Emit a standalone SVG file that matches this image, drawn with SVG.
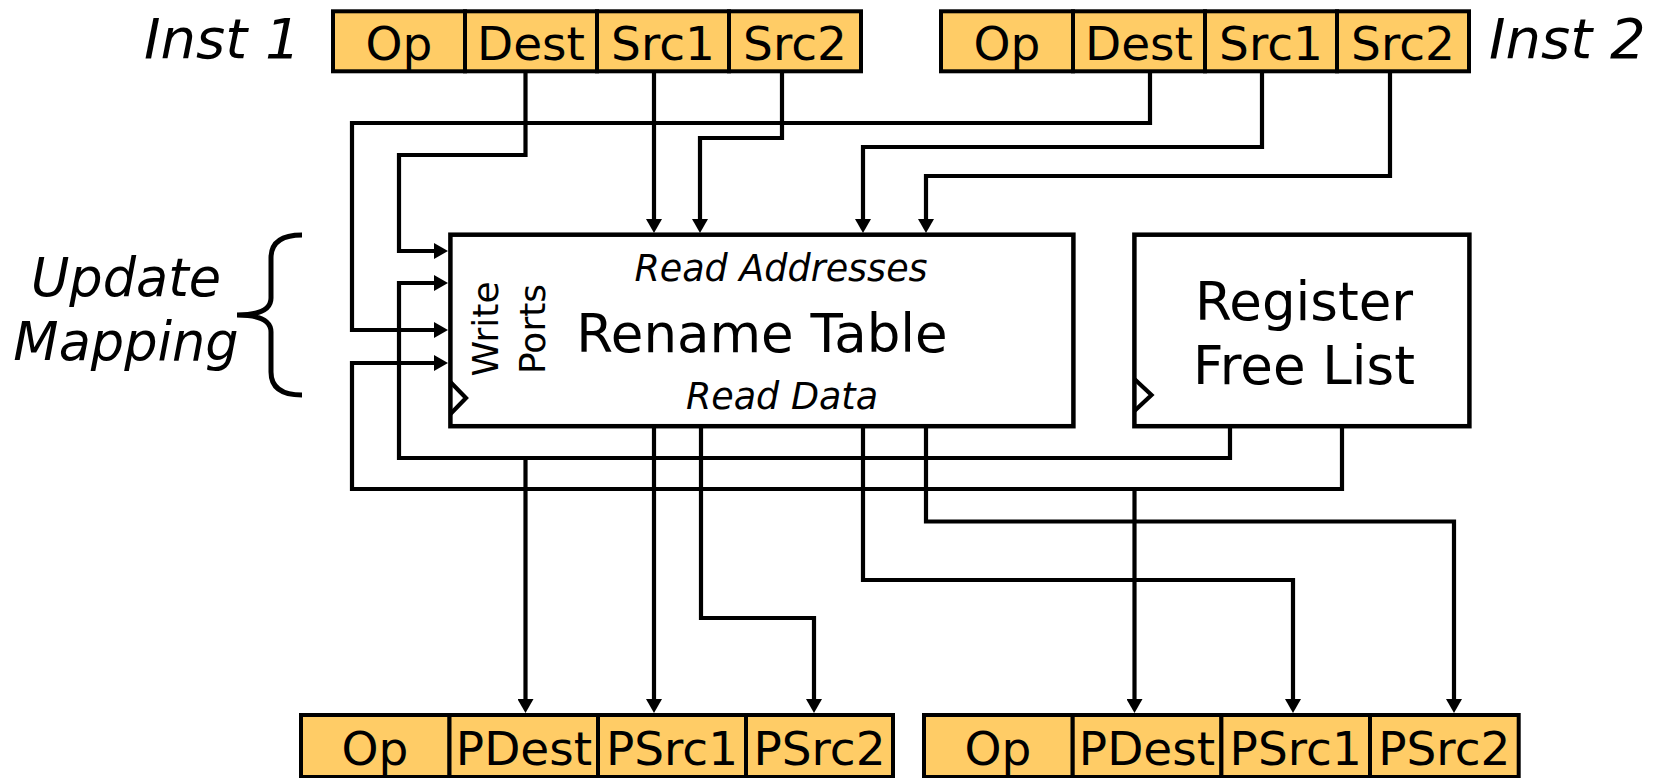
<svg xmlns="http://www.w3.org/2000/svg" width="1655" height="778" viewBox="0 0 1655 778">
<style>
.fld{fill:#FFCC66;stroke:#000;stroke-width:4}
.blk{fill:#fff;stroke:#000;stroke-width:4.5}
.wire{fill:none;stroke:#000;stroke-width:4.2}
.t{font-family:"DejaVu Sans",Verdana,sans-serif;fill:#000}
.it{font-family:"DejaVu Sans",Verdana,sans-serif;font-style:italic;fill:#000}
.lbl{font-size:47px;text-anchor:middle}
.plbl{font-size:47px;text-anchor:middle}
</style>
<defs>
<marker id="arr" markerUnits="userSpaceOnUse" markerWidth="16" markerHeight="16" refX="8" refY="8" orient="auto">
<path d="M0,0 L14,8 L0,16 z" fill="#000"/>
</marker>
</defs>
<rect width="1655" height="778" fill="#fff"/>

<g id="connectors" class="wire" marker-end="url(#arr)">
<path d="M525.5,71 V155 H399 V251 H442"/>
<path d="M654,71 V227"/>
<path d="M782,71 V138 H700 V227"/>
<path d="M1150,71 V123 H352 V330 H442"/>
<path d="M1262,71 V147 H863 V227"/>
<path d="M1390,71 V176 H926 V227"/>
<path d="M1230,427 V458 H399 V283 H442"/>
<path d="M1342,427 V489 H352 V363 H442"/>
<path d="M525.5,458 V707"/>
<path d="M1134.5,489 V707"/>
<path d="M654,427 V707"/>
<path d="M701,427 V618 H814 V707"/>
<path d="M863,427 V580 H1293 V707"/>
<path d="M926,427 V521.5 H1454 V707"/>
</g>

<g id="inst1">
<rect class="fld" x="333" y="11.3" width="132" height="60"/>
<rect class="fld" x="465" y="11.3" width="132" height="60"/>
<rect class="fld" x="597" y="11.3" width="132" height="60"/>
<rect class="fld" x="729" y="11.3" width="132" height="60"/>
<text class="t lbl" x="399" y="60">Op</text>
<text class="t lbl" x="531" y="60">Dest</text>
<text class="t lbl" x="663" y="60">Src1</text>
<text class="t lbl" x="795" y="60">Src2</text>
</g>
<text id="inst1-label" class="it" x="144" y="58" font-size="56">Inst 1</text>

<g id="inst2">
<rect class="fld" x="941" y="11.3" width="132" height="60"/>
<rect class="fld" x="1073" y="11.3" width="132" height="60"/>
<rect class="fld" x="1205" y="11.3" width="132" height="60"/>
<rect class="fld" x="1337" y="11.3" width="132" height="60"/>
<text class="t lbl" x="1007" y="60">Op</text>
<text class="t lbl" x="1139" y="60">Dest</text>
<text class="t lbl" x="1271" y="60">Src1</text>
<text class="t lbl" x="1403" y="60">Src2</text>
</g>
<text id="inst2-label" class="it" x="1489" y="58" font-size="56">Inst 2</text>

<g id="rename-table">
<rect class="blk" x="450.4" y="234.7" width="623" height="191.5"/>
<polyline class="wire" points="450.4,382 466,398 450.4,414"/>
<text class="it" x="781" y="281" font-size="36.5" text-anchor="middle">Read Addresses</text>
<text class="t" x="762" y="351.7" font-size="53" text-anchor="middle">Rename Table</text>
<text class="it" x="782" y="409" font-size="36.5" text-anchor="middle">Read Data</text>
<text class="t" transform="translate(498,329) rotate(-90)" font-size="36" text-anchor="middle">Write<tspan x="0" dy="46.6">Ports</tspan></text>
</g>

<g id="free-list">
<rect class="blk" x="1134.4" y="234.7" width="335" height="191.5"/>
<polyline class="wire" points="1134.4,379 1151.5,395 1134.4,411"/>
<text class="t" x="1304" y="320" font-size="53" text-anchor="middle">Register</text>
<text class="t" x="1304" y="384" font-size="53" text-anchor="middle">Free List</text>
</g>

<g id="update-mapping">
<path d="M302,235 Q271,235 271,258 V298 Q271,315 237,315 Q271,315 271,332 V372 Q271,395 302,395" fill="none" stroke="#000" stroke-width="5"/>
<text class="it" x="126" y="296" font-size="52.5" text-anchor="middle">Update</text>
<text class="it" x="126" y="360" font-size="52.5" text-anchor="middle">Mapping</text>
</g>

<g id="out1">
<rect class="fld" x="301" y="715" width="148.5" height="62"/>
<rect class="fld" x="449.5" y="715" width="148.5" height="62"/>
<rect class="fld" x="598" y="715" width="148" height="62"/>
<rect class="fld" x="746" y="715" width="147" height="62"/>
<text class="t plbl" x="375" y="765">Op</text>
<text class="t plbl" x="524" y="765">PDest</text>
<text class="t plbl" x="672" y="765">PSrc1</text>
<text class="t plbl" x="819.5" y="765">PSrc2</text>
</g>

<g id="out2">
<rect class="fld" x="924" y="715" width="148.7" height="62"/>
<rect class="fld" x="1072.7" y="715" width="148.7" height="62"/>
<rect class="fld" x="1221.4" y="715" width="148.6" height="62"/>
<rect class="fld" x="1370" y="715" width="148.7" height="62"/>
<text class="t plbl" x="998" y="765">Op</text>
<text class="t plbl" x="1147" y="765">PDest</text>
<text class="t plbl" x="1295.7" y="765">PSrc1</text>
<text class="t plbl" x="1444.3" y="765">PSrc2</text>
</g>
</svg>
